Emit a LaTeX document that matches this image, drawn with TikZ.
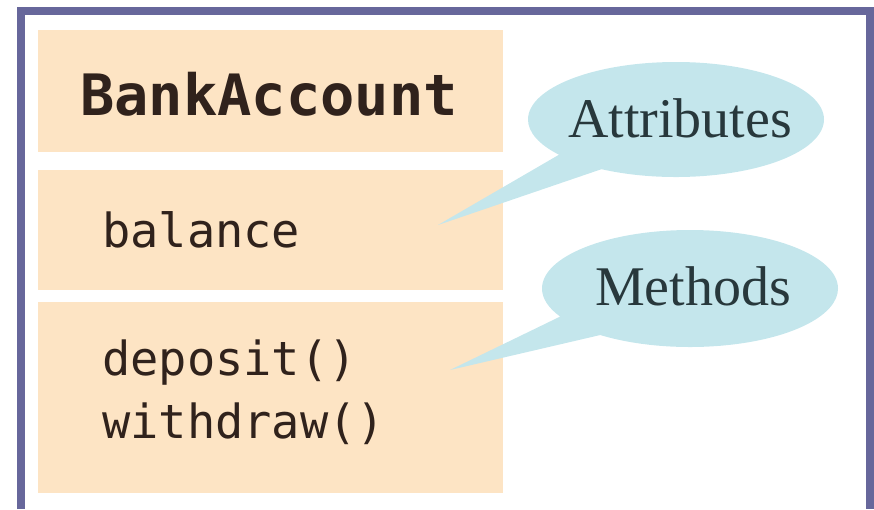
\documentclass[tikz,border=0pt]{standalone}
\usepackage{fontspec}
\setmainfont{Liberation Serif}
\newfontfamily\codefont{DejaVu Sans Mono}
\usetikzlibrary{shapes.callouts}

\definecolor{peche}{RGB}{253,228,196}
\definecolor{cyanpale}{RGB}{196,230,236}
\definecolor{cadre}{RGB}{103,103,155}
\definecolor{encre}{RGB}{48,34,28}
\definecolor{ardoise}{RGB}{40,56,60}

\tikzset{
  boite/.style={fill=peche, minimum width=465pt, inner sep=0pt},
  code/.style={anchor=base west, inner sep=0pt, text=encre, font=\codefont\fontsize{47}{56}\selectfont},
  bulle/.style={ellipse callout, fill=cyanpale, minimum width=296pt, inner sep=0pt},
  etiquette/.style={anchor=base, inner sep=0pt, text=ardoise, font=\fontsize{56}{60}\selectfont}
}

\begin{document}
\begin{tikzpicture}[x=1pt, y=-1pt]
  \useasboundingbox (0,0) rectangle (874,509);

  % Cadre ouvert en bas
  \draw[cadre, line width=8pt] (21,509) -- (21,11) -- (869.5,11) -- (869.5,509);

  % Compartiments de la classe
  \node[boite, minimum height=122pt] (entete) at (270.5,91) {};
  \node[boite, minimum height=120pt] (attributs) at (270.5,230) {};
  \node[boite, minimum height=191pt] (methodes) at (270.5,397.5) {};

  % Nom, attribut et méthodes
  \node[code, font=\codefont\bfseries\fontsize{57}{60}\selectfont] (nom) at (80,115) {BankAccount};
  \node[code] (balance) at (102,247) {balance};
  \node[code] (deposit) at (102,375) {deposit()};
  \node[code] (withdraw) at (102,438) {withdraw()};

  % Pointes des bulles
  \coordinate (pointeA) at (438,225);
  \coordinate (pointeM) at (450,370);

  % Bulles
  \node[bulle, minimum height=115pt, callout absolute pointer={(pointeA)}, callout pointer arc=22] (bulleA) at (676,119.5) {};
  \node[bulle, minimum height=117pt, callout absolute pointer={(pointeM)}, callout pointer arc=24] (bulleM) at (690,288.5) {};
  \node[etiquette] (txtA) at (680,137) {Attributes};
  \node[etiquette] (txtM) at (693,305) {Methods};
\end{tikzpicture}
\end{document}
